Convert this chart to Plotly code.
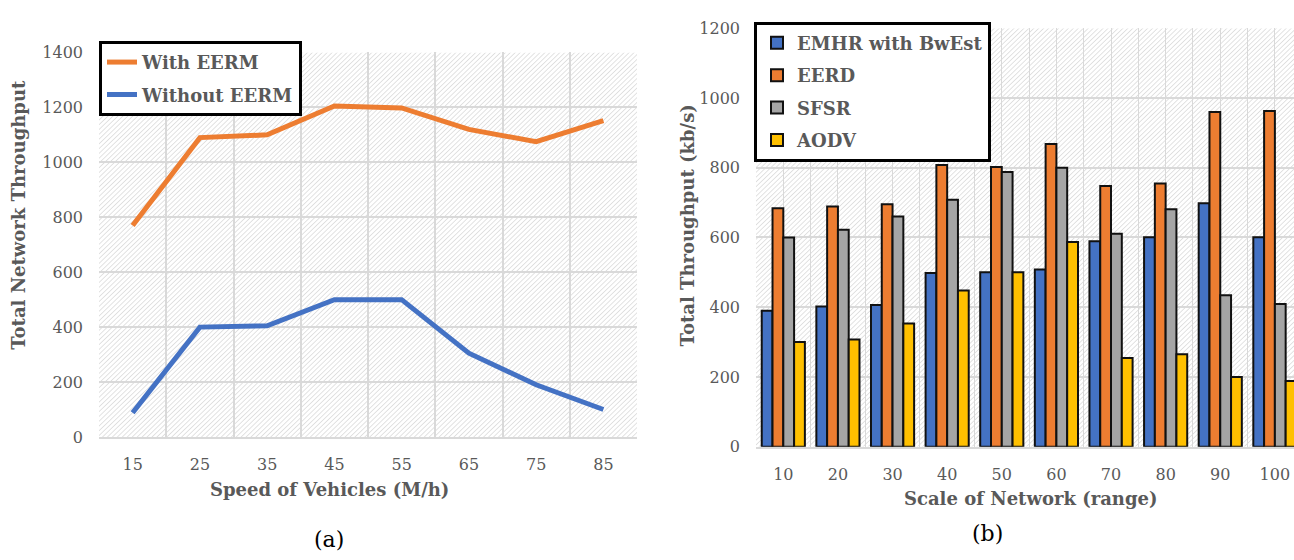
import base64
import plotly.graph_objects as go

# ---------------- data ----------------
speed = ["15", "25", "35", "45", "55", "65", "75", "85"]
with_eerm = [770, 1090, 1100, 1205, 1198, 1120, 1075, 1152]
without_eerm = [88, 400, 405, 500, 500, 305, 190, 100]

scale = [10, 20, 30, 40, 50, 60, 70, 80, 90, 100]
emhr = [390, 402, 406, 498, 500, 508, 589, 601, 698, 601]
eerd = [684, 689, 695, 808, 802, 868, 748, 755, 960, 963]
sfsr = [600, 622, 660, 708, 788, 800, 611, 681, 434, 409]
aodv = [300, 307, 353, 448, 500, 587, 254, 265, 200, 188]

W, H = 1294, 560
TXT = "#595959"
FONT = "DejaVu Serif"

# plot-area pixel boxes (left, right, top, bottom)
A = (99, 637, 45, 443)
B = (756, 1294, 20, 453)


def dom_x(b):
    return [b[0] / W, b[1] / W]


def dom_y(b):
    return [1 - b[3] / H, 1 - b[2] / H]


def hatch_uri(w, h):
    svg = (
        f"<svg xmlns='http://www.w3.org/2000/svg' width='{w}' height='{h}'>"
        "<defs><pattern id='p' width='3.5' height='3.5' patternUnits='userSpaceOnUse' "
        "patternTransform='rotate(45)'>"
        "<line x1='0' y1='0' x2='0' y2='3.5' stroke='#d2d2d2' stroke-width='1.3'/>"
        "</pattern></defs>"
        "<rect width='100%' height='100%' fill='white'/>"
        "<rect width='100%' height='100%' fill='url(#p)'/></svg>"
    )
    return "data:image/svg+xml;base64," + base64.b64encode(svg.encode()).decode()


fig = go.Figure()

# ---------------- chart (a) ----------------
fig.add_trace(go.Scatter(x=speed, y=with_eerm, mode="lines", name="<b>With EERM</b>",
                         line=dict(color="#ED7D31", width=5), xaxis="x", yaxis="y",
                         legend="legend", legendgroup="a1"))
fig.add_trace(go.Scatter(x=speed, y=without_eerm, mode="lines", name="<b>Without EERM</b>",
                         line=dict(color="#4472C4", width=5), xaxis="x", yaxis="y",
                         legend="legend", legendgroup="a2"))

# ---------------- chart (b) ----------------
bar_series = [("EMHR with BwEst", emhr, "#4472C4"),
              ("EERD", eerd, "#ED7D31"),
              ("SFSR", sfsr, "#A5A5A5"),
              ("AODV", aodv, "#FFC000")]
for i, (nm, vals, col) in enumerate(bar_series):
    fig.add_trace(go.Bar(x=scale, y=vals, name=f"<b>{nm}</b>",
                         marker=dict(color=col, line=dict(color="#111111", width=2)),
                         xaxis="x2", yaxis="y2", legend="legend2", legendgroup=f"b{i}"))

tickfont = dict(family=FONT, size=16, color=TXT)
grid = "#d9d9d9"

fig.update_layout(
    width=W, height=H,
    margin=dict(l=0, r=0, t=0, b=0),
    paper_bgcolor="white",
    plot_bgcolor="rgba(0,0,0,0)",
    barmode="group", bargap=0.21, bargroupgap=0,
    xaxis=dict(domain=dom_x(A), anchor="y", type="category", range=[-0.5, 7.5],
               tickson="boundaries", showgrid=True, gridcolor=grid, gridwidth=1.5,
               showline=True, linecolor=grid, linewidth=1.5, ticks="",
               tickfont=tickfont, ticklabelstandoff=12, zeroline=False),
    yaxis=dict(domain=dom_y(A), anchor="x", range=[0, 1400], dtick=200,
               showgrid=True, gridcolor=grid, gridwidth=1.5, zeroline=False,
               tickfont=tickfont, ticklabelstandoff=15, ticks=""),
    xaxis2=dict(domain=dom_x(B), anchor="y2", range=[5, 103.5],
                tickmode="array", tickvals=scale, ticktext=[str(s) for s in scale],
                showgrid=True, gridcolor=grid, gridwidth=1.2,
                minor=dict(tick0=5, dtick=10, showgrid=True, gridcolor=grid, gridwidth=1.2),
                showline=True, linecolor=grid, linewidth=1.5, ticks="",
                tickfont=tickfont, ticklabelstandoff=12, zeroline=False),
    yaxis2=dict(domain=dom_y(B), anchor="x2", range=[0, 1200], dtick=200,
                showgrid=True, gridcolor=grid, gridwidth=1.5, zeroline=False,
                tickfont=tickfont, ticklabelstandoff=15, ticks=""),
    legend=dict(x=99 / W, y=1 - 33 / H, xanchor="left", yanchor="top",
                bgcolor="white", bordercolor="black", borderwidth=3,
                font=dict(family=FONT, size=18, color=TXT), tracegroupgap=6,
                traceorder="grouped"),
    legend2=dict(x=754 / W, y=1 - 13 / H, xanchor="left", yanchor="top",
                 bgcolor="white", bordercolor="black", borderwidth=3,
                 font=dict(family=FONT, size=18, color=TXT), tracegroupgap=6,
                 traceorder="grouped", itemwidth=30),
    images=[
        dict(source=hatch_uri(A[1] - A[0], A[3] - A[2]), xref="paper", yref="paper",
             x=A[0] / W, y=1 - A[2] / H, sizex=(A[1] - A[0]) / W, sizey=(A[3] - A[2]) / H,
             xanchor="left", yanchor="top", sizing="stretch", layer="below"),
        dict(source=hatch_uri(B[1] - B[0], B[3] - B[2]), xref="paper", yref="paper",
             x=B[0] / W, y=1 - B[2] / H, sizex=(B[1] - B[0]) / W, sizey=(B[3] - B[2]) / H,
             xanchor="left", yanchor="top", sizing="stretch", layer="below"),
    ],
)

ann_font = dict(family=FONT, size=18, color=TXT)
annotations = [
    dict(text="<b>Total Network Throughput</b>", x=19 / W, y=1 - 213 / H, textangle=-90),
    dict(text="<b>Total Throughput (kb/s)</b>", x=687 / W, y=1 - 224 / H, textangle=-90),
    dict(text="<b>Speed of Vehicles (M/h)</b>", x=329 / W, y=1 - 497 / H),
    dict(text="<b>Scale of Network (range)</b>", x=1030 / W, y=1 - 507 / H),
]
for a in annotations:
    fig.add_annotation(xref="paper", yref="paper", showarrow=False,
                       xanchor="center", yanchor="middle", font=ann_font, **a)
for t, xp, yp in [("(a)", 329, 549), ("(b)", 987, 543)]:
    fig.add_annotation(text=t, xref="paper", yref="paper", x=xp / W, y=1 - yp / H,
                       showarrow=False, xanchor="center", yanchor="middle",
                       font=dict(family=FONT, size=22, color="black"))

fig.write_html("out.html")
